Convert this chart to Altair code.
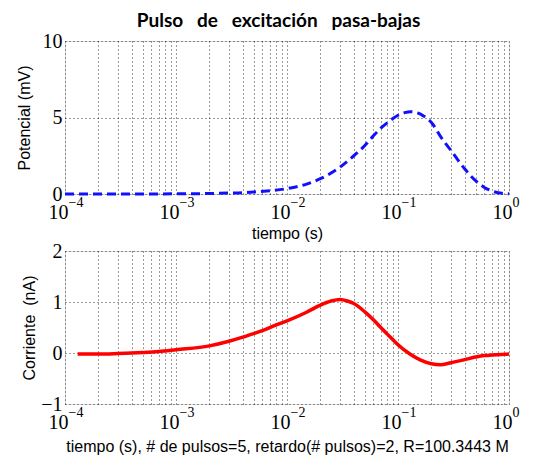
import altair as alt
import pandas as pd

# ---- data ----
x_top = [1e-4, 3e-4, 1e-3, 2e-3, 3e-3, 4e-3, 5e-3, 7e-3, 1e-2, 1.5e-2, 2e-2, 3e-2, 4e-2,
         5e-2, 6e-2, 7e-2, 8e-2, 9e-2, 0.1, 0.115, 0.13, 0.15, 0.17, 0.2, 0.25, 0.3,
         0.4, 0.5, 0.6, 0.7, 0.8, 0.9, 1.0]
y_top = [0, 0, 0.01, 0.03, 0.06, 0.09, 0.13, 0.22, 0.35, 0.65, 1.0, 1.75, 2.5,
         3.15, 3.8, 4.3, 4.65, 4.93, 5.15, 5.32, 5.38, 5.3, 5.1, 4.67, 3.6, 2.85,
         1.63, 0.87, 0.43, 0.2, 0.08, 0.03, 0.01]

x_bot = [1.3e-4, 2e-4, 3e-4, 5e-4, 7e-4, 1e-3, 2e-3, 3e-3, 4e-3, 5e-3, 6e-3, 8e-3,
         1e-2, 1.5e-2, 2e-2, 2.5e-2, 3e-2, 3.5e-2, 4e-2, 5e-2, 6e-2, 7e-2, 8e-2, 9e-2,
         0.1, 0.13, 0.16, 0.2, 0.24, 0.3, 0.4, 0.5, 0.6, 0.7, 0.85, 1.0]
y_bot = [-0.02, -0.02, -0.01, 0.01, 0.03, 0.065, 0.14, 0.23, 0.31, 0.38, 0.44, 0.55,
         0.63, 0.8, 0.94, 1.02, 1.05, 1.02, 0.97, 0.81, 0.65, 0.5, 0.37, 0.26,
         0.16, -0.03, -0.14, -0.21, -0.23, -0.19, -0.13, -0.08, -0.05, -0.04, -0.03, -0.02]

decades = [1e-4, 1e-3, 1e-2, 1e-1, 1e0]
decade_exponents = [-4, -3, -2, -1, 0]
base_label = "10"
exponent_labels = ["\u22124", "\u22123", "\u22122", "\u22121", "0"]
top_yticks = [0, 5, 10]
bot_yticks = [-1, 0, 1, 2]

title_text = "Pulso\u00a0\u00a0 de\u00a0\u00a0 excitación\u00a0\u00a0 pasa-bajas"
top_xtitle = "tiempo (s)"
top_ytitle = "Potencial (mV)"
bot_xtitle = "tiempo (s), # de pulsos=5, retardo(# pulsos)=2, R=100.3443 M"
bot_ytitle = "Corriente\u00a0 (nA)"

# gridline positions (log minor grid)
grid_vals = []
for d in decades[:-1]:
    for m in range(1, 10):
        grid_vals.append(round(d * m, 10))
grid_vals.append(1.0)

is_decade = "abs(log(datum.value)/LN10 - round(log(datum.value)/LN10)) < 1e-6"
expr_base = f"{is_decade} ? '{base_label}' : ''"
expr_exp = "''"
for e, lab in zip(decade_exponents[::-1], exponent_labels[::-1]):
    expr_exp = f"abs(log(datum.value)/LN10 - ({e})) < 1e-6 ? '{lab}' : " + expr_exp

top_df = pd.DataFrame({"t": x_top, "v": y_top})
bot_df = pd.DataFrame({"t": x_bot, "v": y_bot})

W, H = 444, 153
tick_font = "Liberation Serif"
title_font = "Liberation Sans"
xscale = alt.Scale(type="log", domain=[1e-4, 1])


def xaxis_main(title, tpad):
    return alt.Axis(values=grid_vals, labelExpr=expr_base, title=title, grid=True,
                    gridDash=[1, 3], gridColor="#222", gridWidth=1, gridOpacity=0.9,
                    ticks=False, domain=False, labelFont=tick_font, labelFontSize=20,
                    labelColor="black", labelOverlap=False, labelFlush=False,
                    labelAlign="right", labelOffset=3, labelPadding=8, orient="bottom",
                    titleFont=title_font, titleFontSize=16, titleFontWeight="normal",
                    titleColor="black", titlePadding=tpad)


def xaxis_exp():
    return alt.Axis(values=decades, labelExpr=expr_exp, title="", grid=False,
                    ticks=False, domain=False, labelFont=tick_font, labelFontSize=14,
                    labelColor="black", labelOverlap=False, labelFlush=False,
                    labelAlign="left", labelOffset=3, labelPadding=1,
                    orient="bottom")


def yaxis(title, vals, tpad):
    return alt.Axis(values=vals, title=title, grid=True, gridDash=[1, 3],
                    gridColor="#222", gridWidth=1, gridOpacity=0.9, ticks=False,
                    domain=False, labelFont=tick_font, labelFontSize=20,
                    labelColor="black", labelPadding=3, titleFont=title_font,
                    titleFontSize=16, titleFontWeight="normal", titleColor="black",
                    titlePadding=tpad, format="d")


def panel(df, ydomain, yvals, ytitle, ytpad, xtitle, xtpad, mark_kw):
    y = alt.Y("v:Q", scale=alt.Scale(domain=ydomain, nice=False),
              axis=yaxis(ytitle, yvals, ytpad))
    main = alt.Chart(df).mark_line(interpolate="monotone", **mark_kw).encode(
        x=alt.X("t:Q", scale=xscale, axis=xaxis_main(xtitle, xtpad)), y=y)
    expo = alt.Chart(df).mark_line(interpolate="monotone", opacity=0).encode(
        x=alt.X("t:Q", scale=xscale, axis=xaxis_exp()), y=y)
    return alt.layer(main, expo).resolve_axis(x="independent").properties(width=W, height=H)


top = panel(top_df, [0, 10], top_yticks, top_ytitle, 10, top_xtitle, 3,
            dict(color="#1010ff", strokeWidth=3, strokeDash=[9, 5]))
bot = panel(bot_df, [-1, 2], bot_yticks, bot_ytitle, 3, bot_xtitle, 6,
            dict(color="#ff0000", strokeWidth=3.5))

chart = alt.vconcat(top, bot, spacing=57, bounds="flush").properties(
    title=alt.TitleParams(title_text, font="Lato", fontWeight="bold", fontSize=19,
                          anchor="middle", dx=11, offset=0, color="black"),
    padding={"left": 7, "top": 3, "right": 5, "bottom": 5},
).configure_view(stroke="#555", strokeWidth=1.2).configure(background="white")

chart.save("out.html", embed_options={"renderer": "svg", "actions": False})
